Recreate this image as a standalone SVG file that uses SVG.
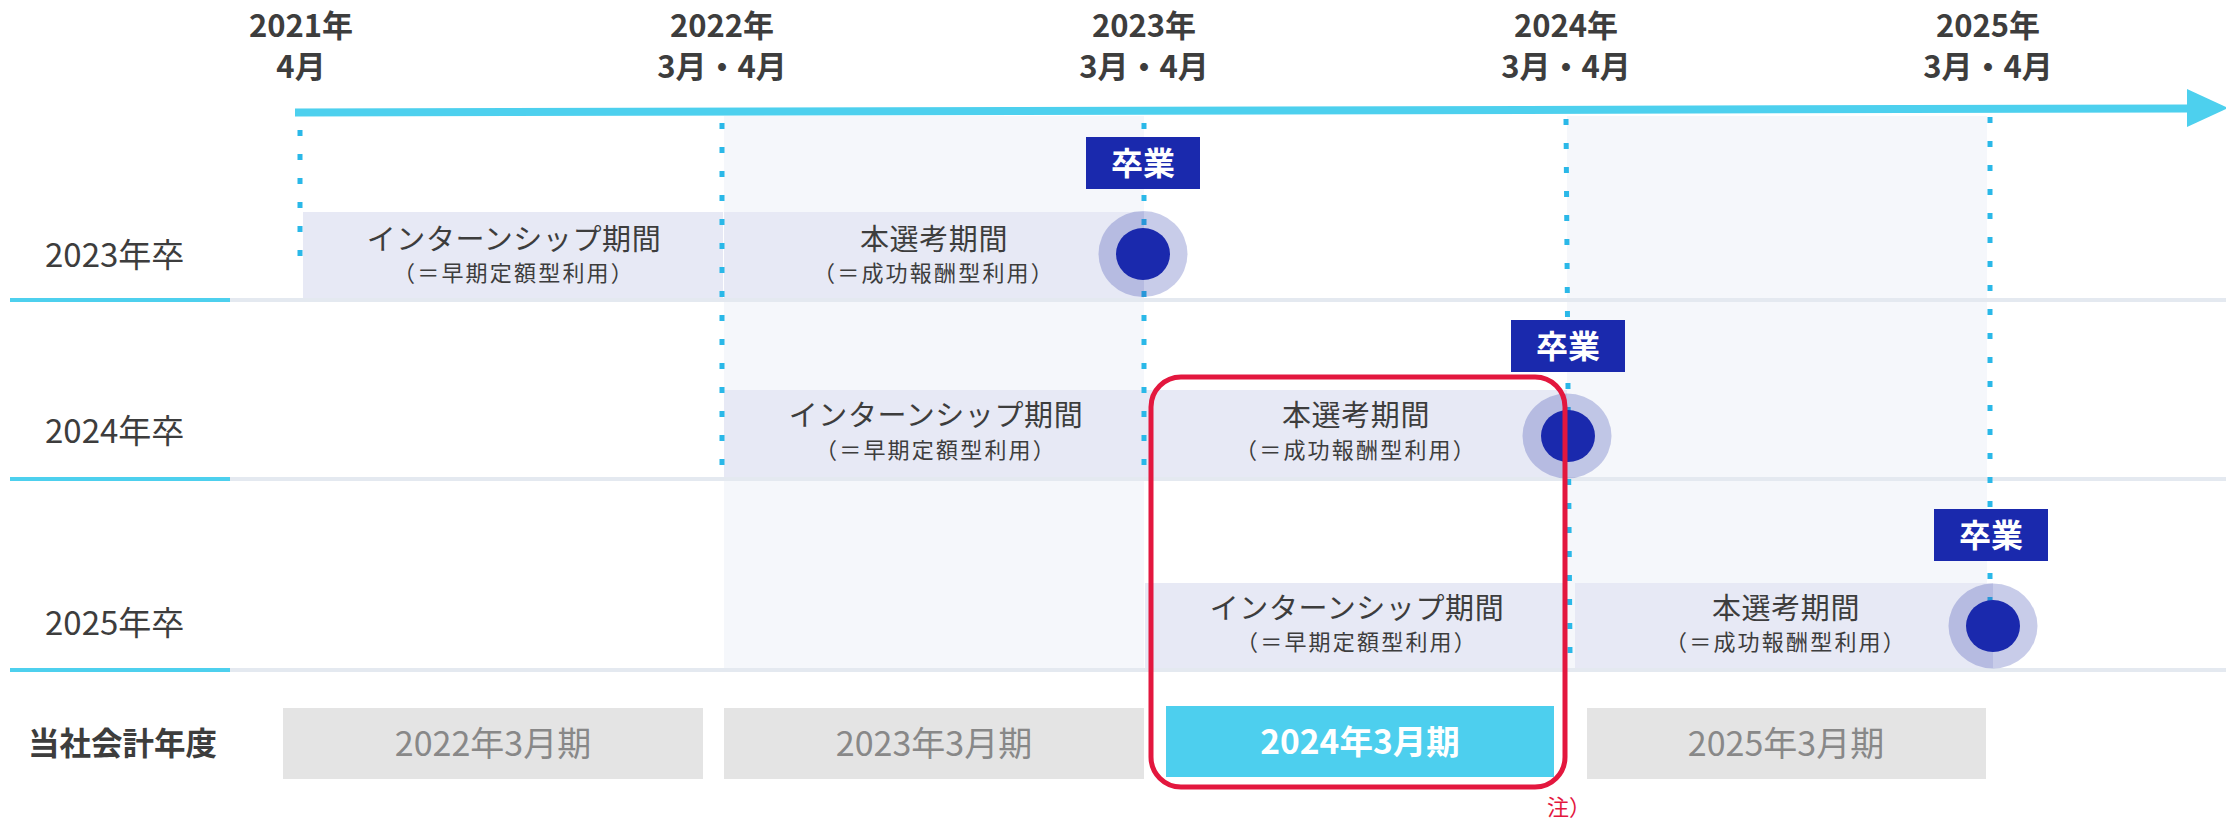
<svg xmlns="http://www.w3.org/2000/svg" width="2226" height="818" viewBox="0 0 2226 818">
<style>
text{font-family:"Noto Sans CJK JP","Noto Sans",sans-serif;fill:#3d3d3d}
.hdr{font-size:31px;font-weight:700;text-anchor:middle}
.row{font-size:33px}
.main{font-size:29px;letter-spacing:0.6px;text-anchor:middle}
.sub{font-size:22px;letter-spacing:2.2px;text-anchor:middle}
.grad{font-size:32px;font-weight:700;fill:#fff;text-anchor:middle}
.fy{font-size:34px;text-anchor:middle;fill:#888}
.per{fill:#e7e9f5}
.col{fill:#f5f7fb}
.sepb{fill:#4dd0ee}
.sepg{fill:#e4e9f0}
.dot{stroke:#2ab8e8;stroke-width:5;stroke-dasharray:6 18;fill:none}
.halo{fill:#2433a8;fill-opacity:0.25}
.core{fill:#1a29ad}
.gbox{fill:#1a29ad}
.fbox{fill:#e4e4e4}
</style>
<rect width="2226" height="818" fill="#fff"/>
<g id="columns">
<rect class="col" x="724" y="116" width="420" height="552"/>
<rect class="col" x="1567" y="116" width="420" height="552"/>
</g>
<g id="headers">
<text class="hdr" x="301" y="37">2021年</text><text class="hdr" x="301" y="78">4月</text>
<text class="hdr" x="722" y="37">2022年</text><text class="hdr" x="722" y="78">3月・4月</text>
<text class="hdr" x="1144" y="37">2023年</text><text class="hdr" x="1144" y="78">3月・4月</text>
<text class="hdr" x="1566" y="37">2024年</text><text class="hdr" x="1566" y="78">3月・4月</text>
<text class="hdr" x="1988" y="37">2025年</text><text class="hdr" x="1988" y="78">3月・4月</text>
</g>
<g id="row-2023">
<text class="row" x="45" y="267">2023年卒</text>
<rect class="sepb" x="10" y="298" width="220" height="4"/><rect class="sepg" x="230" y="298" width="1996" height="4"/>
</g>
<g id="row-2024">
<text class="row" x="45" y="443">2024年卒</text>
<rect class="sepb" x="10" y="477" width="220" height="4"/><rect class="sepg" x="230" y="477" width="1996" height="4"/>
</g>
<g id="row-2025">
<text class="row" x="45" y="635">2025年卒</text>
<rect class="sepb" x="10" y="668" width="220" height="4"/><rect class="sepg" x="230" y="668" width="1996" height="4"/>
</g>
<g id="p23-intern"><rect class="per" x="303" y="212" width="420" height="86"/><text class="main" x="514" y="250">インターンシップ期間</text><text class="sub" x="514" y="281">（＝早期定額型利用）</text></g>
<g id="p23-main"><rect class="per" x="724" y="212" width="420" height="86"/><text class="main" x="934" y="250">本選考期間</text><text class="sub" x="934" y="281">（＝成功報酬型利用）</text></g>
<g id="p24-intern"><rect class="per" x="724" y="390" width="420" height="87"/><text class="main" x="936" y="426">インターンシップ期間</text><text class="sub" x="936" y="458">（＝早期定額型利用）</text></g>
<g id="p24-main"><rect class="per" x="1144" y="390" width="423" height="87"/><text class="main" x="1356" y="426">本選考期間</text><text class="sub" x="1356" y="458">（＝成功報酬型利用）</text></g>
<g id="p25-intern"><rect class="per" x="1145" y="583" width="420" height="85"/><text class="main" x="1357" y="619">インターンシップ期間</text><text class="sub" x="1357" y="650">（＝早期定額型利用）</text></g>
<g id="p25-main"><rect class="per" x="1575" y="583" width="418" height="85"/><text class="main" x="1786" y="619">本選考期間</text><text class="sub" x="1786" y="650">（＝成功報酬型利用）</text></g>
<g id="connectors">
<path d="M295 112.5 L2190 108.5" stroke="#4dd0ee" stroke-width="8" fill="none"/>
<polygon points="2187,89 2228,108 2187,127" fill="#4dd0ee"/>
<line class="dot" x1="300" y1="130" x2="300" y2="258"/>
<line class="dot" x1="722" y1="123" x2="722" y2="465"/>
<line class="dot" x1="1144" y1="123" x2="1144" y2="465"/>
<line class="dot" x1="1566" y1="119" x2="1570" y2="654"/>
<line class="dot" x1="1990" y1="117" x2="1990" y2="603"/>
</g>
<g id="grad-2023"><rect class="gbox" x="1086" y="137" width="114" height="52"/><text class="grad" x="1143" y="175">卒業</text><ellipse class="halo" cx="1143" cy="254" rx="44.5" ry="43"/><ellipse class="core" cx="1143" cy="254" rx="27" ry="26"/></g>
<g id="grad-2024"><rect class="gbox" x="1511" y="320" width="114" height="52"/><text class="grad" x="1568" y="358">卒業</text><ellipse class="halo" cx="1567" cy="436" rx="44.5" ry="42.5"/><ellipse class="core" cx="1568" cy="436" rx="27" ry="26"/></g>
<g id="grad-2025"><rect class="gbox" x="1934" y="509" width="114" height="52"/><text class="grad" x="1991" y="547">卒業</text><ellipse class="halo" cx="1993" cy="626" rx="44.5" ry="42.5"/><ellipse class="core" cx="1993" cy="626" rx="27" ry="26"/></g>
<g id="fiscal">
<text x="28" y="755" style="font-size:31.5px;font-weight:700">当社会計年度</text>
<rect class="fbox" x="283" y="708" width="420" height="71"/><text class="fy" x="493" y="756">2022年3月期</text>
<rect class="fbox" x="724" y="708" width="420" height="71"/><text class="fy" x="934" y="756">2023年3月期</text>
<rect x="1166" y="706" width="388" height="71" fill="#4dcfee"/><text class="fy" x="1360" y="754" style="fill:#fff;font-weight:700;font-size:33.5px">2024年3月期</text>
<rect class="fbox" x="1587" y="708" width="399" height="71"/><text class="fy" x="1786" y="756">2025年3月期</text>
</g>
<g id="highlight">
<rect x="1151" y="377" width="414" height="410" rx="30" fill="none" stroke="#e3173e" stroke-width="5"/>
<text x="1547" y="815" style="font-size:22px;fill:#e3173e">注）</text>
</g>
</svg>
